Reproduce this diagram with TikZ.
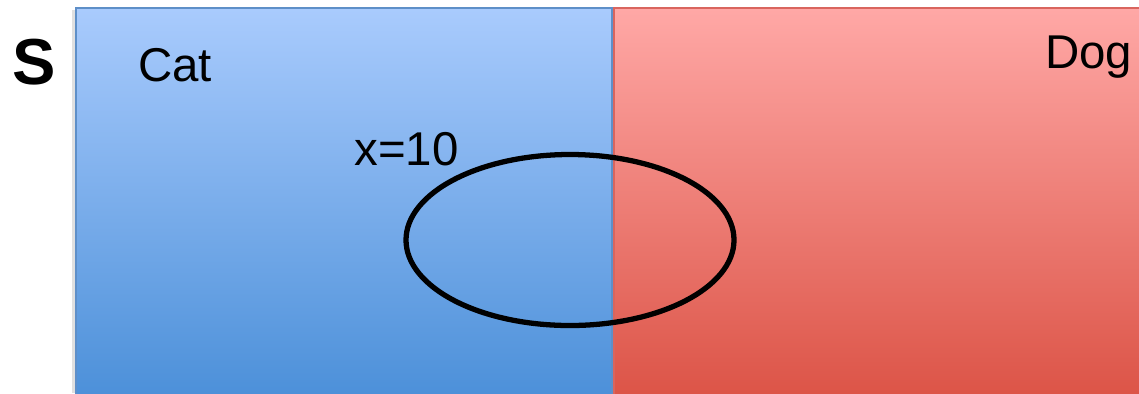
\documentclass[tikz,border=0pt]{standalone}
\usepackage{fontspec}
\setmainfont{Liberation Sans}
\usetikzlibrary{positioning}
\definecolor{vnBlueTop}{HTML}{A9CBFD}
\definecolor{vnBlueBot}{HTML}{4C90D9}
\definecolor{vnBlueEdge}{HTML}{5E8FC8}
\definecolor{vnRedTop}{HTML}{FFA8A6}
\definecolor{vnRedBot}{HTML}{DC5447}
\definecolor{vnRedEdge}{HTML}{D9655E}
\tikzset{
  vn blue/.style={top color=vnBlueTop, bottom color=vnBlueBot, draw=vnBlueEdge, line width=1.5pt},
  vn red/.style={top color=vnRedTop, bottom color=vnRedBot, draw=vnRedEdge, line width=1.5pt},
  vn event/.style={draw=black, line width=3pt},
  vn label/.style={font=\fontsize{27}{30}\selectfont, text=black, inner sep=0pt},
  vn space/.style={font=\fontsize{37}{40}\selectfont\bfseries, text=black, inner sep=0pt},
}

\begin{document}
\begin{tikzpicture}[x=0.02cm,y=-0.02cm]
  \useasboundingbox (0,0) rectangle (1139,393);
  % faint shadow left of the sample space
  \fill[black!12] (72,10) rectangle (76,393);
  % the two halves
  \path[vn blue] (76,8) rectangle (612,396);
  \path[vn red] (614,8) rectangle (1142,396);
  % event drawn over both halves
  \draw[vn event] (570,240) ellipse [x radius=164, y radius=85.5];
  % labels
  \node[vn space, anchor=base west] (space) at (12,84) {S};
  \node[vn label, anchor=base west] (cat) at (138,81) {Cat};
  \node[vn label, anchor=base west] (dog) at (1045,68) {Dog};
  \node[vn label, anchor=base west] (xval) at (354,165) {x=10};
\end{tikzpicture}
\end{document}
